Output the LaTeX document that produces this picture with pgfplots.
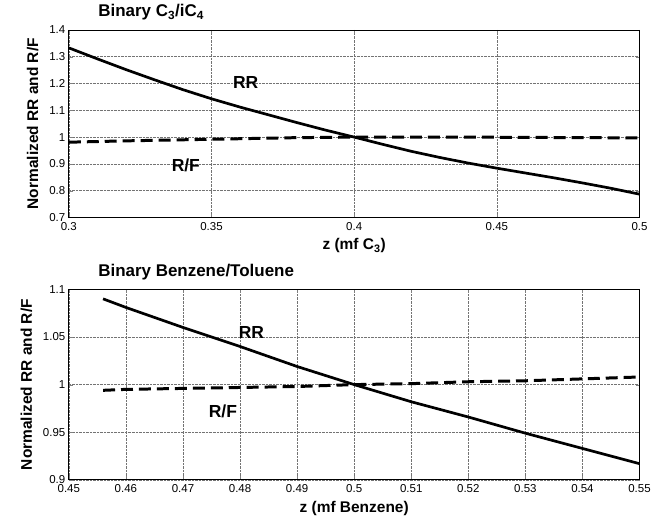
\documentclass[border=0pt]{standalone}
\usepackage{pgfplots}
\pgfplotsset{compat=1.18}
\usepackage{fontspec}
\setmainfont{Liberation Sans}
\begin{document}
\begin{tikzpicture}[x=1pt,y=1pt]
\path (-69,-303) rectangle (585,218);
\pgfplotsset{
  every axis/.style={
    scale only axis,
    width=572pt,
    /pgf/number format/assume math mode=true,
    tick label style={font=\fontsize{11.5}{13}\selectfont},
    label style={font=\fontsize{15.5}{18}\selectfont\bfseries},
    title style={font=\fontsize{17}{19}\selectfont\bfseries, at={(rel axis cs:0,1)}, anchor=base west, xshift=26pt, yshift=7pt},
    grid=major,
    major grid style={black!55, densely dotted, line width=0.5pt},
    tick align=inside,
    xtick pos=both, ytick pos=both,
    major tick length=4pt,
    axis line style={line width=0.8pt},
    xticklabel style={/pgf/number format/fixed, /pgf/number format/precision=2, yshift=-1.5pt},
    yticklabel style={/pgf/number format/fixed, /pgf/number format/precision=2},
    ylabel={Normalized RR and R/F},
    ylabel style={yshift=4pt},
    xlabel style={yshift=-1pt},
    anchor=south west,
  },
  rr/.style={black, line width=2.7pt},
  rf/.style={black, line width=3pt, dash pattern=on 12pt off 6pt},
}
\begin{axis}[
  at={(0,0)},
  height=188pt,
  xmin=0.3, xmax=0.5, ymin=0.7, ymax=1.4,
  xtick={0.3,0.35,0.4,0.45,0.5},
  ytick={0.7,0.8,0.9,1,1.1,1.2,1.3,1.4},
  title={Binary C\textsubscript{3}/iC\textsubscript{4}},
  xlabel={z (mf C\textsubscript{3})},
]
\addplot[rr] coordinates {
(0.30,1.333) (0.31,1.292) (0.32,1.252) (0.33,1.214) (0.34,1.177) (0.35,1.143)
(0.36,1.112) (0.37,1.083) (0.38,1.054) (0.39,1.026) (0.40,1.000) (0.41,0.973)
(0.42,0.947) (0.43,0.924) (0.44,0.903) (0.45,0.884) (0.46,0.866) (0.47,0.848)
(0.48,0.829) (0.49,0.809) (0.50,0.787)
};
\addplot[rf] coordinates {
(0.30,0.981) (0.32,0.986) (0.34,0.990) (0.36,0.994) (0.38,0.998) (0.40,1.000)
(0.42,1.000) (0.44,1.000) (0.46,0.999) (0.48,0.998) (0.50,0.997)
};
\node[font=\fontsize{17.5}{20}\selectfont\bfseries] at (axis cs:0.362,1.205) {RR};
\node[font=\fontsize{17.5}{20}\selectfont\bfseries] at (axis cs:0.341,0.893) {R/F};
\end{axis}
\begin{axis}[
  at={(0,-263pt)},
  height=191pt,
  xmin=0.45, xmax=0.55, ymin=0.9, ymax=1.1,
  xtick={0.45,0.46,0.47,0.48,0.49,0.5,0.51,0.52,0.53,0.54,0.55},
  ytick={0.9,0.95,1,1.05,1.1},
  title={Binary Benzene/Toluene},
  xlabel={z (mf Benzene)},
]
\addplot[rr] coordinates {
(0.456,1.090) (0.46,1.081) (0.47,1.060) (0.48,1.040) (0.49,1.019) (0.50,1.000)
(0.51,0.982) (0.52,0.966) (0.53,0.949) (0.54,0.933) (0.55,0.917)
};
\addplot[rf] coordinates {
(0.456,0.994) (0.46,0.995) (0.47,0.996) (0.48,0.997) (0.49,0.998) (0.50,1.000)
(0.51,1.001) (0.52,1.003) (0.53,1.004) (0.54,1.006) (0.55,1.008)
};
\node[font=\fontsize{17.5}{20}\selectfont\bfseries] at (axis cs:0.482,1.055) {RR};
\node[font=\fontsize{17.5}{20}\selectfont\bfseries] at (axis cs:0.477,0.972) {R/F};
\end{axis}
\end{tikzpicture}
\end{document}
